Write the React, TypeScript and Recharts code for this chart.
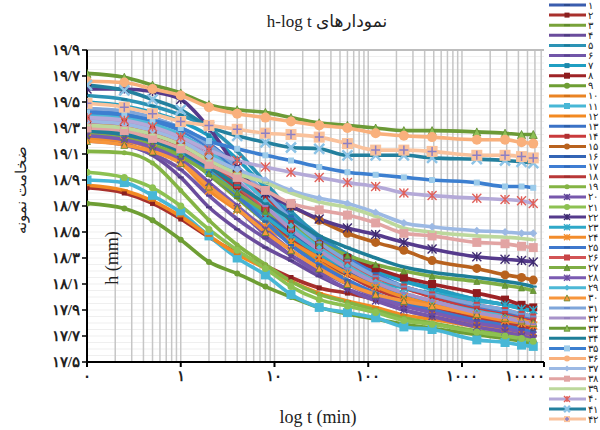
import { LineChart, Line, XAxis, YAxis, CartesianGrid, ReferenceLine } from "recharts";

// time in minutes
const TIMES = [0.1, 0.25, 0.5, 1, 2, 4, 8, 15, 30, 60, 120, 240, 480, 1440, 2880, 4320, 5760];

// sample thickness h (mm), one list per sample
const h1 = [19.36, 19.33, 19.28, 19.2, 19.06, 18.88, 18.68, 18.5, 18.33, 18.2, 18.1, 18.02, 17.96, 17.88, 17.84, 17.81, 17.79];
const h2 = [18.84, 18.8, 18.72, 18.6, 18.46, 18.34, 18.24, 18.15, 18.07, 18.03, 17.98, 17.94, 17.9, 17.84, 17.8, 17.78, 17.76];
const h3 = [19.28, 19.26, 19.2, 19.1, 18.94, 18.76, 18.58, 18.42, 18.28, 18.17, 18.08, 18.0, 17.95, 17.87, 17.83, 17.8, 17.78];
const h4 = [19.22, 19.18, 19.09, 18.92, 18.69, 18.52, 18.38, 18.28, 18.16, 18.06, 17.98, 17.9, 17.85, 17.78, 17.74, 17.72, 17.7];
const h5 = [19.55, 19.52, 19.47, 19.4, 19.3, 19.12, 18.88, 18.66, 18.47, 18.33, 18.22, 18.13, 18.07, 17.98, 17.94, 17.92, 17.9];
const h6 = [19.2, 19.17, 19.1, 18.98, 18.78, 18.6, 18.45, 18.32, 18.2, 18.1, 18.02, 17.95, 17.9, 17.82, 17.78, 17.75, 17.73];
const h7 = [19.5, 19.47, 19.42, 19.35, 19.24, 19.06, 18.84, 18.62, 18.44, 18.3, 18.2, 18.12, 18.06, 17.98, 17.94, 17.91, 17.89];
const h8 = [19.32, 19.3, 19.25, 19.16, 19.02, 18.85, 18.67, 18.52, 18.4, 18.3, 18.22, 18.15, 18.1, 18.03, 17.98, 17.94, 17.92];
const h9 = [18.72, 18.68, 18.59, 18.44, 18.27, 18.18, 18.08, 18.0, 17.92, 17.87, 17.83, 17.79, 17.76, 17.71, 17.68, 17.66, 17.64];
const h10 = [19.4, 19.37, 19.3, 19.2, 19.05, 18.85, 18.63, 18.45, 18.28, 18.13, 18.02, 17.94, 17.88, 17.8, 17.76, 17.73, 17.71];
const h11 = [18.9, 18.88, 18.78, 18.65, 18.47, 18.3, 18.17, 18.02, 17.92, 17.88, 17.84, 17.77, 17.75, 17.67, 17.65, 17.63, 17.62];
const h12 = [18.86, 18.82, 18.74, 18.62, 18.47, 18.33, 18.22, 18.12, 18.03, 17.97, 17.92, 17.86, 17.83, 17.77, 17.74, 17.72, 17.7];
const h13 = [19.45, 19.42, 19.37, 19.3, 19.18, 19.0, 18.78, 18.57, 18.38, 18.23, 18.1, 18.01, 17.95, 17.86, 17.82, 17.79, 17.77];
const h14 = [19.38, 19.36, 19.31, 19.24, 19.12, 18.95, 18.76, 18.58, 18.42, 18.28, 18.16, 18.07, 18.0, 17.91, 17.87, 17.84, 17.82];
const h15 = [19.3, 19.28, 19.24, 19.18, 19.08, 18.95, 18.82, 18.7, 18.59, 18.49, 18.42, 18.36, 18.28, 18.22, 18.17, 18.15, 18.13];
const h16 = [19.34, 19.31, 19.26, 19.18, 19.04, 18.86, 18.66, 18.48, 18.32, 18.18, 18.07, 17.98, 17.92, 17.84, 17.8, 17.77, 17.75];
const h17 = [19.42, 19.4, 19.35, 19.28, 19.15, 18.98, 18.8, 18.62, 18.45, 18.3, 18.18, 18.08, 18.02, 17.93, 17.89, 17.86, 17.84];
const h18 = [19.33, 19.3, 19.25, 19.16, 19.0, 18.82, 18.62, 18.45, 18.3, 18.17, 18.06, 17.98, 17.92, 17.84, 17.8, 17.77, 17.76];
const h19 = [19.12, 19.11, 19.03, 18.82, 18.59, 18.4, 18.25, 18.12, 18.02, 17.96, 17.9, 17.84, 17.8, 17.74, 17.71, 17.69, 17.67];
const h20 = [19.26, 19.23, 19.17, 19.06, 18.88, 18.68, 18.48, 18.32, 18.18, 18.06, 17.97, 17.9, 17.85, 17.77, 17.73, 17.7, 17.68];
const h21 = [18.96, 18.92, 18.84, 18.7, 18.52, 18.36, 18.22, 18.08, 17.98, 17.93, 17.88, 17.82, 17.79, 17.73, 17.7, 17.68, 17.66];
const h22 = [19.6, 19.6, 19.58, 19.52, 19.3, 19.0, 18.8, 18.7, 18.6, 18.53, 18.48, 18.42, 18.37, 18.31, 18.29, 18.28, 18.27];
const h23 = [19.3, 19.27, 19.22, 19.12, 18.97, 18.8, 18.62, 18.47, 18.33, 18.22, 18.12, 18.07, 18.03, 17.97, 17.94, 17.91, 17.9];
const h24 = [19.22, 19.2, 19.14, 19.03, 18.82, 18.67, 18.54, 18.42, 18.3, 18.18, 18.08, 18.0, 17.94, 17.86, 17.82, 17.8, 17.78];
const h25 = [19.3, 19.27, 19.21, 19.12, 18.96, 18.78, 18.58, 18.4, 18.25, 18.13, 18.03, 17.95, 17.9, 17.82, 17.78, 17.75, 17.73];
const h26 = [19.35, 19.32, 19.27, 19.18, 19.04, 18.86, 18.68, 18.52, 18.38, 18.26, 18.15, 18.08, 18.02, 17.94, 17.9, 17.87, 17.85];
const h27 = [19.25, 19.22, 19.17, 19.08, 18.95, 18.8, 18.66, 18.55, 18.42, 18.32, 18.25, 18.2, 18.16, 18.12, 18.09, 18.07, 18.05];
const h28 = [19.24, 19.21, 19.15, 19.05, 18.88, 18.7, 18.52, 18.36, 18.22, 18.1, 18.0, 17.93, 17.88, 17.8, 17.76, 17.73, 17.71];
const h29 = [19.4, 19.38, 19.33, 19.25, 19.12, 18.94, 18.74, 18.55, 18.38, 18.24, 18.12, 18.03, 17.97, 17.89, 17.85, 17.82, 17.8];
const h30 = [19.2, 19.17, 19.12, 19.03, 18.85, 18.68, 18.5, 18.36, 18.22, 18.1, 18.02, 17.97, 17.93, 17.87, 17.84, 17.82, 17.8];
const h31 = [19.45, 19.43, 19.38, 19.3, 19.17, 19.0, 18.8, 18.6, 18.42, 18.28, 18.16, 18.08, 18.02, 17.94, 17.9, 17.87, 17.85];
const h32 = [19.36, 19.34, 19.29, 19.22, 19.08, 18.9, 18.7, 18.52, 18.36, 18.22, 18.11, 18.03, 17.97, 17.88, 17.84, 17.81, 17.79];
const h33 = [19.72, 19.69, 19.63, 19.57, 19.48, 19.44, 19.42, 19.38, 19.34, 19.32, 19.3, 19.28, 19.28, 19.27, 19.26, 19.25, 19.25];
const h34 = [19.28, 19.25, 19.2, 19.12, 19.0, 18.86, 18.72, 18.6, 18.47, 18.38, 18.3, 18.23, 18.19, 18.15, 18.12, 18.1, 18.08];
const h35 = [19.42, 19.4, 19.36, 19.3, 19.2, 19.14, 19.09, 19.05, 19.0, 18.96, 18.94, 18.92, 18.9, 18.88, 18.85, 18.85, 18.84];
const h36 = [19.66, 19.65, 19.6, 19.55, 19.46, 19.41, 19.38, 19.35, 19.32, 19.3, 19.26, 19.24, 19.23, 19.21, 19.21, 19.19, 19.18];
const h37 = [19.35, 19.33, 19.28, 19.2, 19.08, 18.98, 18.9, 18.82, 18.76, 18.72, 18.65, 18.57, 18.54, 18.51, 18.5, 18.49, 18.49];
const h38 = [19.3, 19.28, 19.22, 19.14, 19.02, 18.92, 18.82, 18.72, 18.67, 18.63, 18.57, 18.49, 18.47, 18.42, 18.41, 18.39, 18.38];
const h39 = [19.32, 19.3, 19.25, 19.17, 19.05, 18.95, 18.88, 18.8, 18.73, 18.69, 18.62, 18.53, 18.5, 18.47, 18.46, 18.45, 18.44];
const h40 = [19.38, 19.36, 19.31, 19.23, 19.13, 19.05, 19.0, 18.96, 18.92, 18.88, 18.85, 18.8, 18.78, 18.76, 18.75, 18.74, 18.72];
const h41 = [19.63, 19.59, 19.52, 19.44, 19.31, 19.24, 19.19, 19.15, 19.14, 19.09, 19.09, 19.09, 19.07, 19.06, 19.05, 19.04, 19.03];
const h42 = [19.49, 19.46, 19.41, 19.35, 19.32, 19.29, 19.26, 19.25, 19.23, 19.18, 19.13, 19.13, 19.12, 19.09, 19.09, 19.08, 19.07];

const SAMPLES = [h1, h2, h3, h4, h5, h6, h7, h8, h9, h10, h11, h12, h13, h14, h15, h16, h17, h18, h19, h20, h21,
  h22, h23, h24, h25, h26, h27, h28, h29, h30, h31, h32, h33, h34, h35, h36, h37, h38, h39, h40, h41, h42];

const SAMPLE_NAMES = ["۱", "۲", "۳", "۴", "۵", "۶", "۷", "۸", "۹", "۱۰", "۱۱", "۱۲", "۱۳", "۱۴", "۱۵", "۱۶", "۱۷", "۱۸", "۱۹", "۲۰", "۲۱",
  "۲۲", "۲۳", "۲۴", "۲۵", "۲۶", "۲۷", "۲۸", "۲۹", "۳۰", "۳۱", "۳۲", "۳۳", "۳۴", "۳۵", "۳۶", "۳۷", "۳۸", "۳۹", "۴۰", "۴۱", "۴۲"];

const COLORS = [
  "#3A5DAE", "#A8302C", "#78A23A", "#6A4C9C", "#2C93B5", "#7156A8", "#1F9EC2", "#9E2326", "#6E9E34", "#EA8424",
  "#48B7D6", "#F38A22", "#3A72C6", "#C93A3C", "#B8621E", "#3465B5", "#3F7DD2", "#B83838", "#84B444", "#7757AC",
  "#8DC152", "#553A8C", "#2FA8C8", "#F28C2C", "#3F78CC", "#D25456", "#7FAE45", "#7B5BB2", "#4DB8D6", "#F7963C",
  "#7FA6DA", "#A893CA", "#6B9A36", "#1E7E98", "#3C7FD0", "#F9B07C", "#9CB9E4", "#E2A4A3", "#BCD89C", "#B4A9D8",
  "#23809E", "#FAC29C",
];

// [shape, size, colour]
const MARKERS: [string, number, string][] = [
  ["dash", 6, "#2C4A8E"], ["square", 5, "#8A2020"], ["dash", 6, "#5F8A2A"], ["dash", 6, "#4D3B80"], ["dash", 6, "#1C7A98"],
  ["dash", 6, "#5A4290"], ["square", 5, "#1C88AA"], ["square", 8, "#8E1C1E"], ["circle", 6, "#6E9E34"], ["dash", 6, "#D07018"],
  ["square", 9, "#48B7D6"], ["dash", 7, "#E07A18"], ["dash", 6, "#2C5EA8"], ["square", 5, "#B03032"], ["circle", 9, "#B8621E"],
  ["dash", 6, "#2A55A0"], ["dash", 6, "#3068B8"], ["dash", 6, "#A02E2E"], ["circle", 5, "#84B444"], ["star", 7, "#5E4396"],
  ["circle", 7, "#8DC152"], ["star", 9, "#3E2A70"], ["star", 8, "#2FA8C8"], ["star", 8, "#F28C2C"], ["dash", 6, "#2F64B4"],
  ["square", 6, "#C84446"], ["triangle", 6, "#6F9E38"], ["star", 6, "#6A4AA0"], ["diamond", 6, "#4DB8D6"], ["triangle", 7, "#F7963C"],
  ["dash", 6, "#6890D0"], ["dash", 6, "#9680BE"], ["triangle", 8, "#8DBF55"], ["dash", 7, "#1E7E98"], ["square", 6, "#9CCBEA"],
  ["circle", 10, "#F9B07C"], ["diamond", 8, "#9CB9E4"], ["square", 9, "#E2A4A3"], ["dash", 6, "#BCD89C"], ["star", 9, "#E0605A"],
  ["x", 10, "#8CC3E6"], ["plus", 11, "#FAC29C"],
];

const Y_TICKS = [17.5, 17.7, 17.9, 18.1, 18.3, 18.5, 18.7, 18.9, 19.1, 19.3, 19.5, 19.7, 19.9];
const Y_LABELS = ["۱۷/۵", "۱۷/۷", "۱۷/۹", "۱۸/۱", "۱۸/۳", "۱۸/۵", "۱۸/۷", "۱۸/۹", "۱۹/۱", "۱۹/۳", "۱۹/۵", "۱۹/۷", "۱۹/۹"];
const X_MAX = 7500;
const X_TICKS = [0.1, 1, 10, 100, 1000, X_MAX];
const X_LABELS = ["۰", "۱", "۱۰", "۱۰۰", "۱۰۰۰", "۱۰۰۰۰"];

const DECADES = [0.1, 1, 10, 100, 1000];
const GRID_X = DECADES.flatMap((d) => [1, 2, 3, 4, 5, 6, 7, 8, 9].map((k) => +(d * k).toPrecision(3))).filter((v) => v <= X_MAX);
const GRID_Y = Array.from({ length: 49 }, (_, i) => +(17.5 + i * 0.05).toFixed(2));

const data = TIMES.map((t, j) => {
  const row: any = { t };
  SAMPLES.forEach((vals, i) => { row["s" + (i + 1)] = vals[j]; });
  return row;
});

const drawMarker = (m: [string, number, string], cx: number, cy: number, key: string) => {
  const [shape, size, color] = m;
  const h = size / 2;
  if (cx == null || cy == null) return <g key={key} />;
  switch (shape) {
    case "circle":
      return <circle key={key} cx={cx} cy={cy} r={h} fill={color} />;
    case "square":
      return <rect key={key} x={cx - h} y={cy - h} width={size} height={size} fill={color} />;
    case "triangle":
      return <path key={key} d={`M${cx},${cy - h}L${cx + h},${cy + h}L${cx - h},${cy + h}Z`} fill={color} stroke="#5E8A2E" strokeWidth={0.8} />;
    case "diamond":
      return <path key={key} d={`M${cx},${cy - h}L${cx + h},${cy}L${cx},${cy + h}L${cx - h},${cy}Z`} fill={color} />;
    case "x":
      return <path key={key} d={`M${cx - h},${cy - h}L${cx + h},${cy + h}M${cx - h},${cy + h}L${cx + h},${cy - h}`} stroke={color} strokeWidth={2.5} />;
    case "star":
      return <path key={key} d={`M${cx - h},${cy - h}L${cx + h},${cy + h}M${cx - h},${cy + h}L${cx + h},${cy - h}M${cx},${cy - h}L${cx},${cy + h}`} stroke={color} strokeWidth={1.4} />;
    case "plus":
      return (
        <g key={key}>
          <rect x={cx - h} y={cy - h} width={size} height={size} fill={color} />
          <path d={`M${cx - h + 1},${cy}L${cx + h - 1},${cy}M${cx},${cy - h + 1}L${cx},${cy + h - 1}`} stroke="#8C7FC4" strokeWidth={1.5} />
        </g>
      );
    default:
      return <path key={key} d={`M${cx - h},${cy}L${cx + h},${cy}`} stroke={color} strokeWidth={2} />;
  }
};

const XTick = (props: any) => {
  const { x, y, payload } = props;
  const i = X_TICKS.indexOf(payload.value);
  const last = payload.value === X_MAX;
  return (
    <text x={last ? x + 1 : x} y={y + 12} textAnchor={last ? "end" : "middle"} fontSize={15} fontWeight={700} fill="#222">
      {X_LABELS[i]}
    </text>
  );
};

const LEGEND_ROW = 10.1;

const App = () => {
  return (
    <div style={{ position: "absolute", left: 0, top: 0, width: 600, height: 430, overflow: "hidden", background: "#fff" }}>
      <LineChart width={600} height={430} data={data} margin={{ top: 50, right: 56, bottom: 38, left: 0 }}>
        <CartesianGrid horizontal={true} vertical={false} horizontalValues={GRID_Y} stroke="#efefef" strokeWidth={1} />
        <CartesianGrid horizontal={false} vertical={true} verticalValues={GRID_X} stroke="#c6c6c6" strokeWidth={1.5} />
        <ReferenceLine y={19.9} stroke="#bdbdbd" strokeWidth={2} />
        <XAxis dataKey="t" type="number" scale="log" domain={[0.1, X_MAX]} ticks={X_TICKS} allowDataOverflow
          height={30} axisLine={{ stroke: "#000", strokeWidth: 2 }} tickLine={{ stroke: "#000", strokeWidth: 2 }} tickSize={5}
          tick={<XTick />} interval={0} />
        <YAxis type="number" domain={[17.5, 19.9]} ticks={Y_TICKS} interval={0} allowDataOverflow width={87}
          axisLine={{ stroke: "#000", strokeWidth: 2 }} tickLine={{ stroke: "#000", strokeWidth: 1.5 }} tickSize={5} tickMargin={2}
          tickFormatter={(v: number) => Y_LABELS[Y_TICKS.indexOf(v)]}
          tick={{ fontSize: 15, fontWeight: 700, fill: "#222" }} />
        {SAMPLES.map((_, i) => (
          <Line key={i} dataKey={"s" + (i + 1)} name={SAMPLE_NAMES[i]} type="monotone" stroke={COLORS[i]} strokeWidth={3.6}
            isAnimationActive={false} activeDot={false}
            dot={(p: any) => drawMarker(MARKERS[i], p.cx, p.cy, `m${i}-${p.index}`)} />
        ))}
      </LineChart>

      <svg width={600} height={430} style={{ position: "absolute", left: 0, top: 0, pointerEvents: "none" }}>
        <text x={327} y={27} textAnchor="middle" fontSize={17} fontFamily="'Liberation Serif', 'DejaVu Sans', serif" fill="#222" direction="rtl">
          نمودارهای h-log t
        </text>
        <text transform="rotate(-90 26 190)" x={26} y={190} textAnchor="middle" fontSize={15} fill="#222">
          ضخامت نمونه
        </text>
        <text transform="rotate(-90 118 258)" x={118} y={258} textAnchor="middle" fontSize={18} fontFamily="'Liberation Serif', serif" fill="#222">
          h (mm)
        </text>
        <text x={318} y={423} textAnchor="middle" fontSize={18} fontFamily="'Liberation Serif', serif" fill="#222">
          log t (min)
        </text>
        {SAMPLE_NAMES.map((name, i) => {
          const cy = 5 + i * LEGEND_ROW;
          const [shape, size, color] = MARKERS[i];
          return (
            <g key={name}>
              <line x1={549} y1={cy} x2={586} y2={cy} stroke={COLORS[i]} strokeWidth={3} />
              {drawMarker([shape, Math.min(size, 6), color], 567, cy, "lm" + i)}
              <text x={587.5} y={cy + 3.5} fontSize={9.5} fill="#222">{name}</text>
            </g>
          );
        })}
      </svg>
    </div>
  );
};

export default App;
